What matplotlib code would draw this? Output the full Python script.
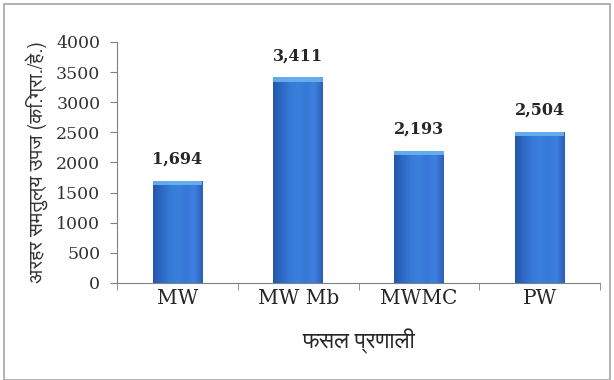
import matplotlib
matplotlib.use("Agg")
import matplotlib.pyplot as plt
import numpy as np
from matplotlib import font_manager
from matplotlib.colors import LinearSegmentedColormap
from matplotlib.patches import Rectangle

categories = ["MW", "MW Mb", "MWMC", "PW"]
values = [1694, 3411, 2193, 2504]
value_labels = ["1,694", "3,411", "2,193", "2,504"]
yticks = [0, 500, 1000, 1500, 2000, 2500, 3000, 3500, 4000]
ylabel = "अरहर समतुल्य उपज (कि.ग्रा./हे.)"
xlabel = "फसल प्रणाली"

deva_family = None
for f in font_manager.fontManager.ttflist:
    if "Devanagari" in f.name or "Lohit" in f.name or "Mukta" in f.name or "FreeSans" in f.name:
        deva_family = f.name
        break
hindi_fams = ([deva_family] if deva_family else []) + ["DejaVu Sans"]

serif = ["DejaVu Serif", "Liberation Serif"]

fig = plt.figure(figsize=(6.14, 3.80), dpi=100)
fig.patches.append(Rectangle((0.006, 0.0), 0.988, 0.99, transform=fig.transFigure,
                             fill=False, edgecolor="#a6a6a6", linewidth=1.2))
ax = fig.add_axes([0.1906, 0.2553, 0.7866, 0.6342])

x = np.arange(len(categories))
bw = 0.41
bars = ax.bar(x, values, width=bw, color="#3375d2", zorder=2)

cmap = LinearSegmentedColormap.from_list(
    "barg", ["#2356a6", "#2d68c4", "#3679d6", "#3b80dc", "#3678d8", "#3f7fe0", "#2a5fb2"])
grad = np.linspace(0, 1, 256).reshape(1, -1)
for b, v in zip(bars, values):
    x0 = b.get_x()
    w = b.get_width()
    im = ax.imshow(grad, cmap=cmap, aspect="auto", extent=[x0, x0 + w, 0, v],
                   zorder=3, interpolation="bicubic")
    im.set_clip_path(b)
    ax.add_patch(Rectangle((x0, v - 70), w, 70, facecolor="#69b4f0", edgecolor="none",
                           alpha=0.9, zorder=4))

for xi, v, lab in zip(x, values, value_labels):
    ax.text(xi, v + 360, lab, ha="center", va="center", fontsize=11.5,
            fontweight="bold", family=serif, color="#262626")

ax.set_xlim(-0.5, len(categories) - 0.5)
ax.set_ylim(0, 4000)
ax.set_yticks(yticks)
ax.set_yticklabels([str(t) for t in yticks], family=serif, fontsize=12.5, color="#333333")
ax.set_xticks(x)
ax.set_xticklabels(categories, family=serif, fontsize=14.5, color="#262626")
ax.set_xticks(np.arange(len(categories) + 1) - 0.5, minor=True)
ax.tick_params(axis="x", which="major", length=0, pad=4)
ax.tick_params(axis="x", which="minor", length=5, direction="out", color="#808080")
ax.tick_params(axis="y", length=5, direction="out", color="#808080", pad=7)

for s in ["top", "right"]:
    ax.spines[s].set_visible(False)
for s in ["left", "bottom"]:
    ax.spines[s].set_color("#808080")

ax.set_ylabel(ylabel, family=hindi_fams, fontsize=14.5, color="#333333", labelpad=6)
ax.set_xlabel(xlabel, family=hindi_fams, fontsize=16.5, color="#262626", labelpad=15)

fig.savefig("out.png", dpi=100)
